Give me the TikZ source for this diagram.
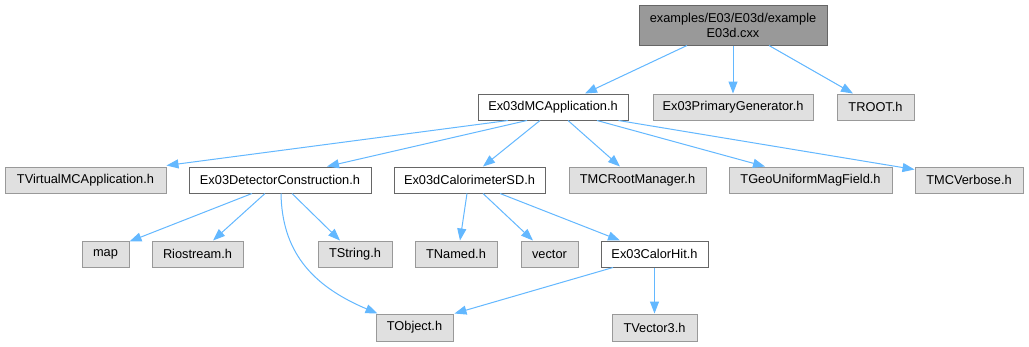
\documentclass[tikz,border=0pt]{standalone}
\usepackage{fontspec}
\setmainfont{Liberation Sans}
\usetikzlibrary{arrows.meta}
\definecolor{edgec}{HTML}{63B8FF}
\definecolor{gfill}{HTML}{E0E0E0}
\definecolor{gline}{HTML}{999999}
\definecolor{dline}{HTML}{666666}
\definecolor{rootfill}{HTML}{999999}
\tikzset{
  box/.style={rectangle, inner sep=0pt, minimum height=26pt, font=\fontsize{12.8}{15}\selectfont, line width=1pt},
  gbox/.style={box, draw=gline, fill=gfill},
  wbox/.style={box, draw=dline, fill=white},
  rbox/.style={box, draw=dline, fill=rootfill, minimum height=40pt, align=center},
  edge/.style={draw=edgec, line width=1pt, -{Triangle[length=12pt,width=9pt]}}
}
\begin{document}
\begin{tikzpicture}[x=1pt,y=-1pt]
\useasboundingbox[fill=white] (0,0) rectangle (1029,346);
% nodes
\node[rbox, minimum width=188pt] (root) at (733,25) {examples/E03/E03d/example\\E03d.cxx};
\node[wbox, minimum width=150pt] (mcapp) at (553,107) {Ex03dMCApplication.h};
\node[gbox, minimum width=160pt] (prim) at (733,107) {Ex03PrimaryGenerator.h};
\node[gbox, minimum width=77pt] (troot) at (875.5,107) {TROOT.h};
\node[gbox, minimum width=161pt] (tvirt) at (85.5,180) {TVirtualMCApplication.h};
\node[wbox, minimum width=182pt] (detcon) at (280,180) {Ex03DetectorConstruction.h};
\node[wbox, minimum width=151pt] (calsd) at (469.5,180) {Ex03dCalorimeterSD.h};
\node[gbox, minimum width=137pt] (rootmgr) at (637.5,180) {TMCRootManager.h};
\node[gbox, minimum width=163pt] (geo) at (810.5,180) {TGeoUniformMagField.h};
\node[gbox, minimum width=108pt] (verbose) at (969,180) {TMCVerbose.h};
\node[gbox, minimum width=47pt] (map) at (105.5,254) {map};
\node[gbox, minimum width=91pt] (riost) at (197.5,254) {Riostream.h};
\node[gbox, minimum width=74pt] (tstring) at (355,254) {TString.h};
\node[gbox, minimum width=82pt] (tnamed) at (456,254) {TNamed.h};
\node[gbox, minimum width=57pt] (vector) at (549.5,254) {vector};
\node[wbox, minimum width=107pt] (calorhit) at (654.5,254) {Ex03CalorHit.h};
\node[gbox, minimum width=77pt, minimum height=27pt] (tobject) at (414.5,327.5) {TObject.h};
\node[gbox, minimum width=85pt, minimum height=27pt] (tvector) at (654.5,327.5) {TVector3.h};
% edges
\draw[edge] ([xshift=-46pt]root.south) -- ([xshift=32pt]mcapp.north);
\draw[edge] (root.south) -- (prim.north);
\draw[edge] ([xshift=36pt]root.south) -- ([xshift=-22.5pt]troot.north);
\draw[edge] ([xshift=-45pt]mcapp.south) -- ([yshift=1pt]tvirt.north east);
\draw[edge] ([xshift=-26pt]mcapp.south) -- ([xshift=47pt]detcon.north);
\draw[edge] ([xshift=-13pt]mcapp.south) -- ([xshift=13.5pt]calsd.north);
\draw[edge] ([xshift=15pt]mcapp.south) -- ([xshift=-17.5pt]rootmgr.north);
\draw[edge] ([xshift=44pt]mcapp.south) -- ([xshift=-45.5pt]geo.north);
\draw[edge] ([xshift=-10pt]mcapp.south east) -- ([yshift=-3pt]verbose.north west);
\draw[edge] ([xshift=-28pt]detcon.south) -- ([yshift=-1pt]map.north east);
\draw[edge] ([xshift=-15pt]detcon.south) -- ([xshift=15.5pt]riost.north);
\draw[edge] ([xshift=12pt]detcon.south) -- ([xshift=-15pt]tstring.north);
\draw[edge] ([xshift=1pt]detcon.south) .. controls (282,250) and (310,285) .. ([xshift=2pt]tobject.north west);
\draw[edge] ([xshift=-2.5pt]calsd.south) -- ([xshift=4pt]tnamed.north);
\draw[edge] ([xshift=13.5pt]calsd.south) -- ([xshift=-16.5pt]vector.north);
\draw[edge] ([xshift=30.5pt]calsd.south) -- ([xshift=-34.5pt]calorhit.north);
\draw[edge] ([xshift=-41.5pt]calorhit.south) -- ([xshift=1pt]tobject.north east);
\draw[edge] (calorhit.south) -- (tvector.north);
\end{tikzpicture}
\end{document}
